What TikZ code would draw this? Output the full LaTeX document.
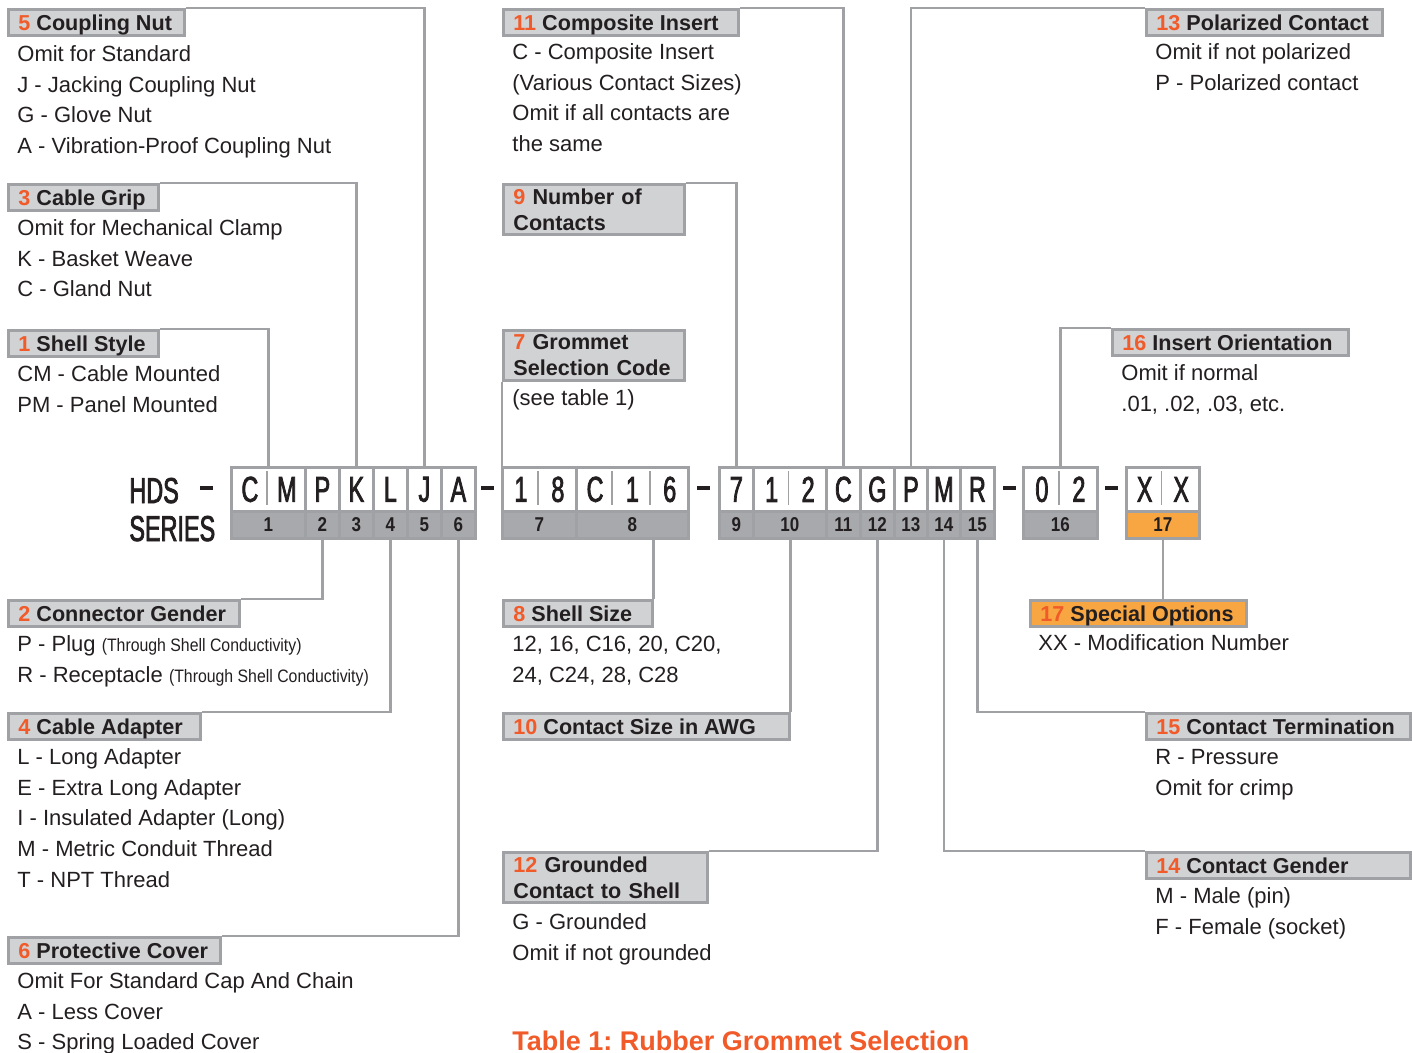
\documentclass[tikz,border=0pt]{standalone}
\usepackage{fontspec}
\setmainfont{Liberation Sans}
\newfontfamily\codefont[FakeStretch=0.65,FakeBold=2]{Liberation Sans}
\newfontfamily\condfont[FakeStretch=0.88]{Liberation Sans}
\newfontfamily\numfont[FakeStretch=0.85]{Liberation Sans}
\definecolor{linegray}{RGB}{160,161,165}
\definecolor{headgray}{RGB}{209,210,212}
\definecolor{numgray}{RGB}{167,169,172}
\definecolor{numred}{RGB}{241,90,41}
\definecolor{optorange}{RGB}{248,166,65}
\definecolor{inkblack}{RGB}{35,31,32}
\newcommand{\hnum}[1]{\textcolor{numred}{#1}}
\newcommand{\headtext}[3]{\makebox[#1][l]{\hnum{#2} #3}}
\newcommand{\cond}[1]{{\condfont\fontsize{9}{15.4}\selectfont #1}}
\frenchspacing

\begin{document}
\begin{tikzpicture}[x=0.5pt,y=-0.5pt,
 link/.style={draw=linegray,line width=1.4pt},
 head/.style={draw=linegray,line width=1.4pt,fill=headgray,anchor=north west,inner xsep=5pt,inner ysep=1pt,text height=9.5pt,text depth=1.5pt,font=\bfseries\fontsize{10.8}{13}\selectfont,text=inkblack},
 headtwo/.style={draw=linegray,line width=1.4pt,fill=headgray,anchor=north west,inner xsep=5pt,inner ysep=0pt,minimum height=25pt,align=left,font=\bfseries\fontsize{10.8}{13}\selectfont,text=inkblack},
 desc/.style={anchor=north west,inner sep=0pt,align=left,font=\fontsize{11}{15.4}\selectfont,text=inkblack},
 series/.style={anchor=base west,inner sep=0pt,font=\codefont\fontsize{18}{18}\selectfont,text=inkblack},
 cell/.style={draw=linegray,line width=1.4pt,fill=white,anchor=north west,inner sep=0pt,minimum height=22pt,font=\codefont\fontsize{18}{18}\selectfont,text=inkblack},
 num/.style={draw=linegray,line width=1.4pt,fill=numgray,anchor=north west,inner sep=0pt,minimum height=13.5pt,font=\numfont\bfseries\fontsize{10}{10}\selectfont,text=inkblack},
 split/.style={draw=linegray,line width=0.9pt},
 dashbar/.style={fill=inkblack,inner sep=0pt,minimum width=6.5pt,minimum height=2pt}]
 \useasboundingbox (0,0) rectangle (1412,1053);

 \node[series] (hds) at (129,503) {HDS};
 \node[series] (ser) at (129,541) {SERIES};
 \node[dashbar] (dash0) at (206,488) {};
 \node[dashbar] (dash1) at (487,488) {};
 \node[dashbar] (dash2) at (703,488) {};
 \node[dashbar] (dash3) at (1009,488) {};
 \node[dashbar] (dash4) at (1111,488) {};

 \node[cell,minimum width=37pt] (t1) at (230,466) {\makebox[18.5pt]{C}\makebox[18.5pt]{M}};
 \node[cell,minimum width=17pt] (t2) at (304,466) {P};
 \node[cell,minimum width=17pt] (t3) at (338,466) {K};
 \node[cell,minimum width=17pt] (t4) at (372,466) {L};
 \node[cell,minimum width=17pt] (t5) at (406,466) {J};
 \node[cell,minimum width=17pt] (t6) at (440,466) {A};
 \node[cell,minimum width=37pt] (t7) at (501,466) {\makebox[18.5pt]{1}\makebox[18.5pt]{8}};
 \node[cell,minimum width=56pt] (t8) at (575,466) {\makebox[18.67pt]{C}\makebox[18.67pt]{1}\makebox[18.67pt]{6}};
 \node[cell,minimum width=17pt] (t9) at (718,466) {7};
 \node[cell,minimum width=36.5pt] (t10) at (752,466) {\makebox[18.25pt]{1}\makebox[18.25pt]{2}};
 \node[cell,minimum width=17pt] (t11) at (825,466) {C};
 \node[cell,minimum width=17pt] (t12) at (859,466) {G};
 \node[cell,minimum width=16.5pt] (t13) at (893,466) {P};
 \node[cell,minimum width=16.5pt] (t14) at (926,466) {M};
 \node[cell,minimum width=17pt] (t15) at (959,466) {R};
 \node[cell,minimum width=37pt] (t16) at (1022,466) {\makebox[18.5pt]{0}\makebox[18.5pt]{2}};
 \node[cell,minimum width=36.5pt] (t17) at (1125,466) {\makebox[18.25pt]{X}\makebox[18.25pt]{X}};

 \node[num,minimum width=37pt] (c1) at (230,510) {1};
 \node[num,minimum width=17pt] (c2) at (304,510) {2};
 \node[num,minimum width=17pt] (c3) at (338,510) {3};
 \node[num,minimum width=17pt] (c4) at (372,510) {4};
 \node[num,minimum width=17pt] (c5) at (406,510) {5};
 \node[num,minimum width=17pt] (c6) at (440,510) {6};
 \node[num,minimum width=37pt] (c7) at (501,510) {7};
 \node[num,minimum width=56pt] (c8) at (575,510) {8};
 \node[num,minimum width=17pt] (c9) at (718,510) {9};
 \node[num,minimum width=36.5pt] (c10) at (752,510) {10};
 \node[num,minimum width=17pt] (c11) at (825,510) {11};
 \node[num,minimum width=17pt] (c12) at (859,510) {12};
 \node[num,minimum width=16.5pt] (c13) at (893,510) {13};
 \node[num,minimum width=16.5pt] (c14) at (926,510) {14};
 \node[num,minimum width=17pt] (c15) at (959,510) {15};
 \node[num,minimum width=37pt] (c16) at (1022,510) {16};
 \node[num,minimum width=36.5pt,fill=optorange] (c17) at (1125,510) {17};

 \draw[split] (267,471) -- (267,505);
 \draw[split] (538,471) -- (538,505);
 \draw[split] (612.3,471) -- (612.3,505);
 \draw[split] (649.7,471) -- (649.7,505);
 \draw[split] (788.5,471) -- (788.5,505);
 \draw[split] (1059,471) -- (1059,505);
 \draw[split] (1161.5,471) -- (1161.5,505);

 \node[head] (h5) at (7,8) {\headtext{78pt}{5}{Coupling Nut}};
 \node[head] (h3) at (7,183) {\headtext{65pt}{3}{Cable Grip}};
 \node[head] (h1) at (7,329) {\headtext{65pt}{1}{Shell Style}};
 \node[head] (h2) at (7,599) {\headtext{105.5pt}{2}{Connector Gender}};
 \node[head] (h4) at (7,712) {\headtext{86pt}{4}{Cable Adapter}};
 \node[head] (h6) at (7,936) {\headtext{96pt}{6}{Protective Cover}};
 \node[head] (h11) at (502,8) {\headtext{107.5pt}{11}{Composite Insert}};
 \node[headtwo,text width=80.5pt] (h9) at (502,183) {\hnum{9} Number of\\Contacts};
 \node[headtwo,text width=80.5pt] (h7) at (502,329) {\hnum{7} Grommet\\Selection Code};
 \node[head] (h8) at (502,599) {\headtext{64.5pt}{8}{Shell Size}};
 \node[head] (h10) at (502,712) {\headtext{133pt}{10}{Contact Size in AWG}};
 \node[headtwo,text width=92pt] (h12) at (502,851) {\hnum{12} Grounded\\Contact to Shell};
 \node[head] (h13) at (1145,8) {\headtext{108pt}{13}{Polarized Contact}};
 \node[head] (h16) at (1111,328) {\headtext{108pt}{16}{Insert Orientation}};
 \node[head,fill=optorange] (h17) at (1029,599) {\headtext{98pt}{17}{Special Options}};
 \node[head] (h15) at (1145,712) {\headtext{122pt}{15}{Contact Termination}};
 \node[head] (h14) at (1145,851) {\headtext{122pt}{14}{Contact Gender}};

 \node[desc] (opt5) at (17,39.4) {\strut Omit for Standard\\J - Jacking Coupling Nut\\G - Glove Nut\\A - Vibration-Proof Coupling Nut};
 \node[desc] (opt3) at (17,213.4) {\strut Omit for Mechanical Clamp\\K - Basket Weave\\C - Gland Nut};
 \node[desc] (opt1) at (17,359.4) {\strut CM - Cable Mounted\\PM - Panel Mounted};
 \node[desc] (opt2) at (17,629.4) {\strut P - Plug \cond{(Through Shell Conductivity)}\\R - Receptacle \cond{(Through Shell Conductivity)}};
 \node[desc] (opt4) at (17,742.4) {\strut L - Long Adapter\\E - Extra Long Adapter\\I - Insulated Adapter (Long)\\M - Metric Conduit Thread\\T - NPT Thread};
 \node[desc] (opt6) at (17,966.4) {\strut Omit For Standard Cap And Chain\\A - Less Cover\\S - Spring Loaded Cover};
 \node[desc] (opt11) at (512,37.4) {\strut C - Composite Insert\\(Various Contact Sizes)\\Omit if all contacts are\\the same};
 \node[desc] (opt7) at (512,383.4) {\strut (see table 1)};
 \node[desc] (opt8) at (512,629.4) {\strut 12, 16, C16, 20, C20,\\24, C24, 28, C28};
 \node[desc] (opt12) at (512,907.4) {\strut G - Grounded\\Omit if not grounded};
 \node[desc] (opt13) at (1155,37.4) {\strut Omit if not polarized\\P - Polarized contact};
 \node[desc] (opt16) at (1121,358.4) {\strut Omit if normal\\.01, .02, .03, etc.};
 \node[desc] (opt17) at (1038,628.4) {\strut XX - Modification Number};
 \node[desc] (opt15) at (1155,742.4) {\strut R - Pressure\\Omit for crimp};
 \node[desc] (opt14) at (1155,881.4) {\strut M - Male (pin)\\F - Female (socket)};
 \node[anchor=base west,inner sep=0pt,font=\bfseries\fontsize{13.5}{13.5}\selectfont,text=numred] (title) at (512,1050) {Table 1: Rubber Grommet Selection};

 \draw[link] (h5.north east) -| (t5.north);
 \draw[link] (h3.north east) -| (t3.north);
 \draw[link] (h1.north east) -| (t1.north);
 \draw[link] (h11.north east) -| (t11.north);
 \draw[link] (h9.north east) -| (t9.north);
 \draw[link] (h7.south west) -- (h7.south west |- t7.north);
 \draw[link] (t13.north) |- (h13.north west);
 \draw[link] (t16.north) |- (h16.north west);
 \draw[link] (c2.south) |- (h2.north east);
 \draw[link] (c4.south) |- (h4.north east);
 \draw[link] (c6.south) |- (h6.north east);
 \draw[link] (h8.north east) -- (h8.north east |- c8.south);
 \draw[link] (h10.north east) -- (h10.north east |- c10.south);
 \draw[link] (c12.south) |- (h12.north east);
 \draw[link] (c17.south) -- (c17.south |- h17.north);
 \draw[link] (c15.south) |- (h15.north west);
 \draw[link] (c14.south) |- (h14.north west);
\end{tikzpicture}
\end{document}
